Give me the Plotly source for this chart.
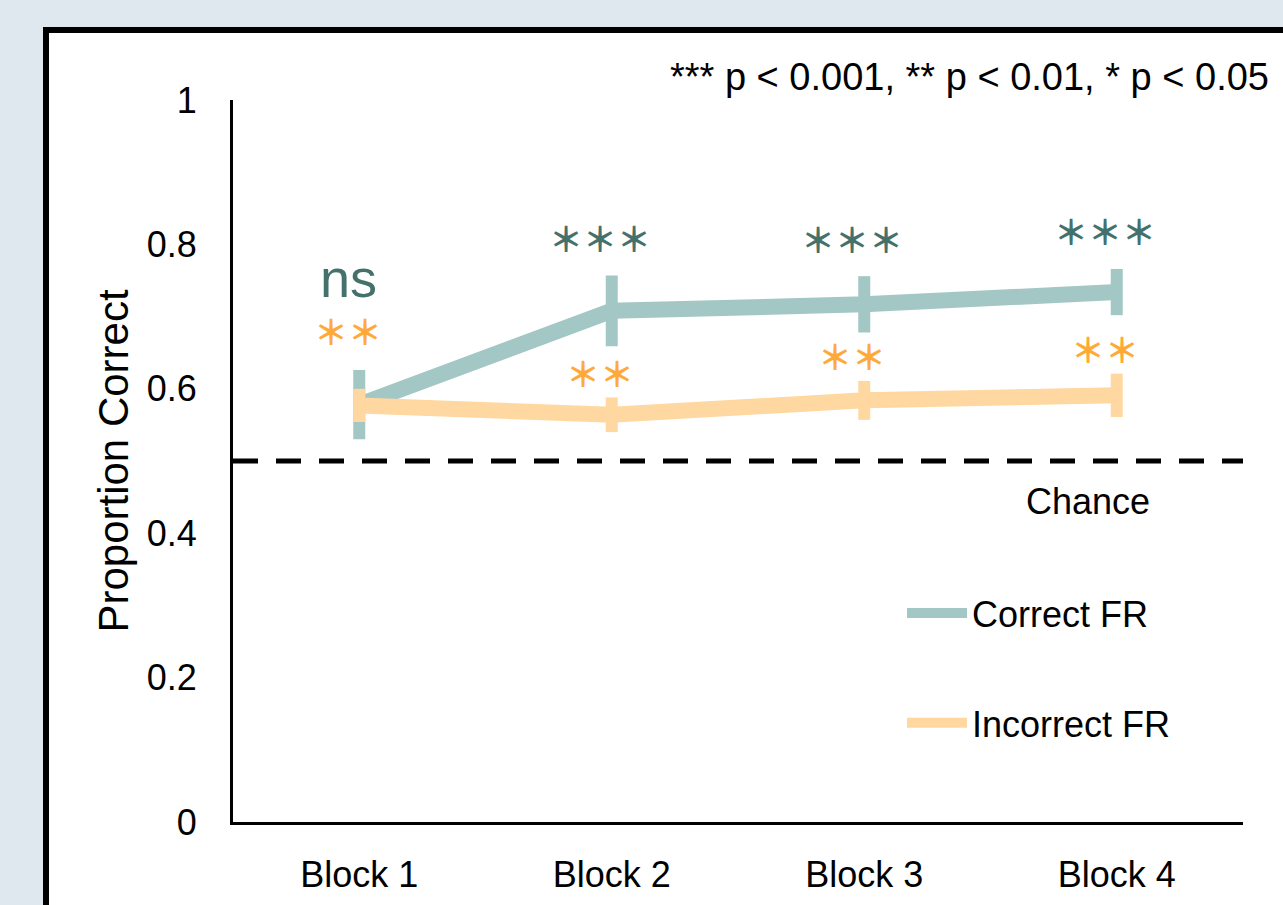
import plotly.graph_objects as go

# Mean proportion correct per block, with error bar half-widths
blocks = ["Block 1", "Block 2", "Block 3", "Block 4"]
correct_fr = [0.578, 0.708, 0.717, 0.734]
correct_err = [0.048, 0.049, 0.039, 0.032]
incorrect_fr = [0.577, 0.564, 0.584, 0.591]
incorrect_err = [0.023, 0.024, 0.027, 0.030]
correct_sig = ["ns", "***", "***", "***"]
incorrect_sig = ["**", "**", "**", "**"]
chance_level = 0.5
y_ticks = [0, 0.2, 0.4, 0.6, 0.8, 1]
y_tick_text = ["0", "0.2", "0.4", "0.6", "0.8", "1"]

TEAL = "#a3c7c5"
TEAL_DARK = "#44716b"
ORANGE = "#fed8a0"
ORANGE_DARK = "#ffaa38"
SANS = "Liberation Sans, Arial, sans-serif"
STAR_FONT = "Noto Sans CJK JP, DejaVu Sans, sans-serif"
LABEL_SIZE = 36

W, H = 1283, 905
L, R, T, B = 233, 40, 100, 83
PW, PH = W - L - R, H - T - B


def px_x(p):
    return (p - L) / PW


def px_y(p):
    return (H - B - p) / PH


def stars(s):
    # full-width asterisks sit centred on the line
    return s.replace("*", "\uff0a")


fig = go.Figure()

fig.add_trace(go.Scatter(
    x=blocks, y=correct_fr, name="Correct FR", mode="lines",
    line=dict(color=TEAL, width=16),
    error_y=dict(type="data", array=correct_err, color=TEAL, thickness=12, width=0),
    legendgroup="c",
))
fig.add_trace(go.Scatter(
    x=blocks, y=incorrect_fr, name="Incorrect FR", mode="lines",
    line=dict(color=ORANGE, width=16),
    error_y=dict(type="data", array=incorrect_err, color=ORANGE, thickness=12, width=0),
    legendgroup="i",
))

# White panel with black frame behind the chart
fig.add_shape(type="rect", xref="paper", yref="paper",
              x0=px_x(46), x1=px_x(1400), y0=px_y(1000), y1=px_y(30),
              fillcolor="white", line=dict(color="black", width=6), layer="below")

# Chance line
fig.add_shape(type="line", xref="paper", yref="y", x0=0, x1=1,
              y0=chance_level, y1=chance_level,
              line=dict(color="black", width=5, dash="25px,18px"), layer="above")
fig.add_annotation(xref="paper", yref="y", x=px_x(1152), y=chance_level, yshift=-40,
                   text="Chance", showarrow=False,
                   font=dict(family=SANS, size=LABEL_SIZE, color="black"))

# Significance markers above each block
star_font = dict(family=STAR_FONT, size=34, weight=700)
for i, b in enumerate(blocks):
    top_c = correct_fr[i] + correct_err[i]
    top_i = incorrect_fr[i] + incorrect_err[i]
    if correct_sig[i] == "ns":
        fig.add_annotation(x=b, y=top_c, yshift=92, xshift=-11, text="ns",
                           showarrow=False, yanchor="middle",
                           font=dict(family=SANS, size=54, color=TEAL_DARK))
        fig.add_annotation(x=b, y=top_c, yshift=40, xshift=-11,
                           text=stars(incorrect_sig[i]),
                           showarrow=False, yanchor="middle",
                           font=dict(star_font, color=ORANGE_DARK))
    else:
        fig.add_annotation(x=b, y=top_c, yshift=38, xshift=-12,
                           text=stars(correct_sig[i]),
                           showarrow=False, yanchor="middle",
                           font=dict(star_font, color=TEAL_DARK))
        fig.add_annotation(x=b, y=top_i, yshift=25, xshift=-12,
                           text=stars(incorrect_sig[i]),
                           showarrow=False, yanchor="middle",
                           font=dict(star_font, color=ORANGE_DARK))

# Significance key
fig.add_annotation(xref="paper", yref="paper", x=px_x(668), y=px_y(77),
                   xanchor="left", yanchor="middle", showarrow=False,
                   text="*** p < 0.001, ** p < 0.01, * p < 0.05",
                   font=dict(family=SANS, size=38, color="black"))

fig.update_layout(
    width=W, height=H,
    margin=dict(l=L, r=R, t=T, b=B),
    paper_bgcolor="#dee8ee",
    plot_bgcolor="rgba(0,0,0,0)",
    showlegend=True,
    legend=dict(x=px_x(902), y=px_y(583), xanchor="left", yanchor="top",
                bgcolor="rgba(0,0,0,0)", traceorder="grouped", tracegroupgap=60,
                itemwidth=60,
                font=dict(family=SANS, size=LABEL_SIZE, color="black")),
    xaxis=dict(range=[-0.5, 3.5], showgrid=False, zeroline=False, automargin=False,
               showline=True, linecolor="black", linewidth=3, ticks="",
               ticklabelstandoff=19,
               tickfont=dict(family=SANS, size=LABEL_SIZE, color="black")),
    yaxis=dict(range=[0, 1], showgrid=False, zeroline=False, automargin=False,
               showline=True, linecolor="black", linewidth=3, ticks="",
               tickvals=y_ticks, ticktext=y_tick_text, ticklabelstandoff=26,
               tickfont=dict(family=SANS, size=LABEL_SIZE, color="black"),
               title=dict(text="Proportion Correct", standoff=6,
                          font=dict(family=SANS, size=42, color="black"))),
)

fig.write_html("out.html")
